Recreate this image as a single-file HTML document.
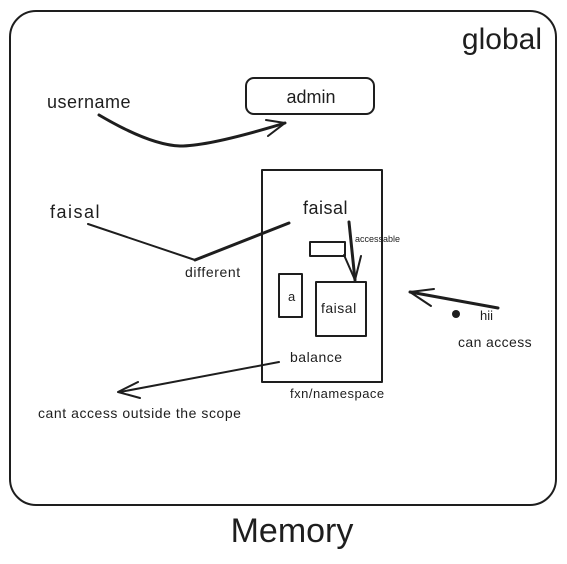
<!DOCTYPE html>
<html><head><style>
html,body{margin:0;padding:0;background:#fff;width:567px;height:564px;overflow:hidden}
svg text{font-family:"Liberation Sans",sans-serif;fill:#1e1e1e}
</style></head><body>
<svg width="567" height="564" viewBox="0 0 567 564" xmlns="http://www.w3.org/2000/svg">
<g fill="none" stroke="#1e1e1e" stroke-linecap="round" stroke-linejoin="round">
<rect x="10" y="11" width="546" height="494" rx="26" stroke-width="2"/>
<rect x="246" y="78" width="128" height="36" rx="8" stroke-width="2"/>
<path d="M99 115 Q150 145 180 146 Q210 146 285 123" stroke-width="3"/>
<path d="M266 120 L285 123 L268 136" stroke-width="2"/>
<rect x="262" y="170" width="120" height="212" stroke-width="2"/>
<path d="M88 224 L195 260" stroke-width="2"/>
<path d="M195 260 L289 223" stroke-width="3"/>
<rect x="310" y="242" width="35" height="14" stroke-width="2"/>
<path d="M349 222 L355 280" stroke-width="3"/>
<path d="M344 255 L355 280 L361 256" stroke-width="2"/>
<rect x="279" y="274" width="23" height="43" stroke-width="2"/>
<rect x="316" y="282" width="50" height="54" stroke-width="2"/>
<path d="M498 308 L410 292" stroke-width="3"/>
<path d="M434 289 L410 292 L431 306" stroke-width="2"/>
<path d="M279 362 L120 392" stroke-width="2"/>
<path d="M138 382 L118 392 L140 398" stroke-width="2"/>
</g>
<circle cx="456" cy="314" r="4" fill="#1e1e1e"/>
<text x="542" y="49" font-size="30" text-anchor="end">global</text>
<text x="311" y="103" font-size="18" text-anchor="middle">admin</text>
<text x="47" y="108" font-size="18" letter-spacing="0.5">username</text>
<text x="50" y="218" font-size="18" letter-spacing="1.5">faisal</text>
<text x="303" y="214" font-size="18" letter-spacing="0.5">faisal</text>
<text x="355" y="242" font-size="9">accessable</text>
<text x="185" y="277" font-size="14" letter-spacing="0.6">different</text>
<text x="288" y="301" font-size="13">a</text>
<text x="321" y="313" font-size="14" letter-spacing="0.5">faisal</text>
<text x="290" y="362" font-size="14" letter-spacing="0.5">balance</text>
<text x="290" y="398" font-size="13" letter-spacing="0.5">fxn/namespace</text>
<text x="480" y="320" font-size="13">hii</text>
<text x="458" y="347" font-size="14" letter-spacing="0.4">can access</text>
<text x="38" y="418" font-size="14" letter-spacing="0.55">cant access outside the scope</text>
<text x="292" y="542" font-size="34" text-anchor="middle">Memory</text>
</svg>
</body></html>
